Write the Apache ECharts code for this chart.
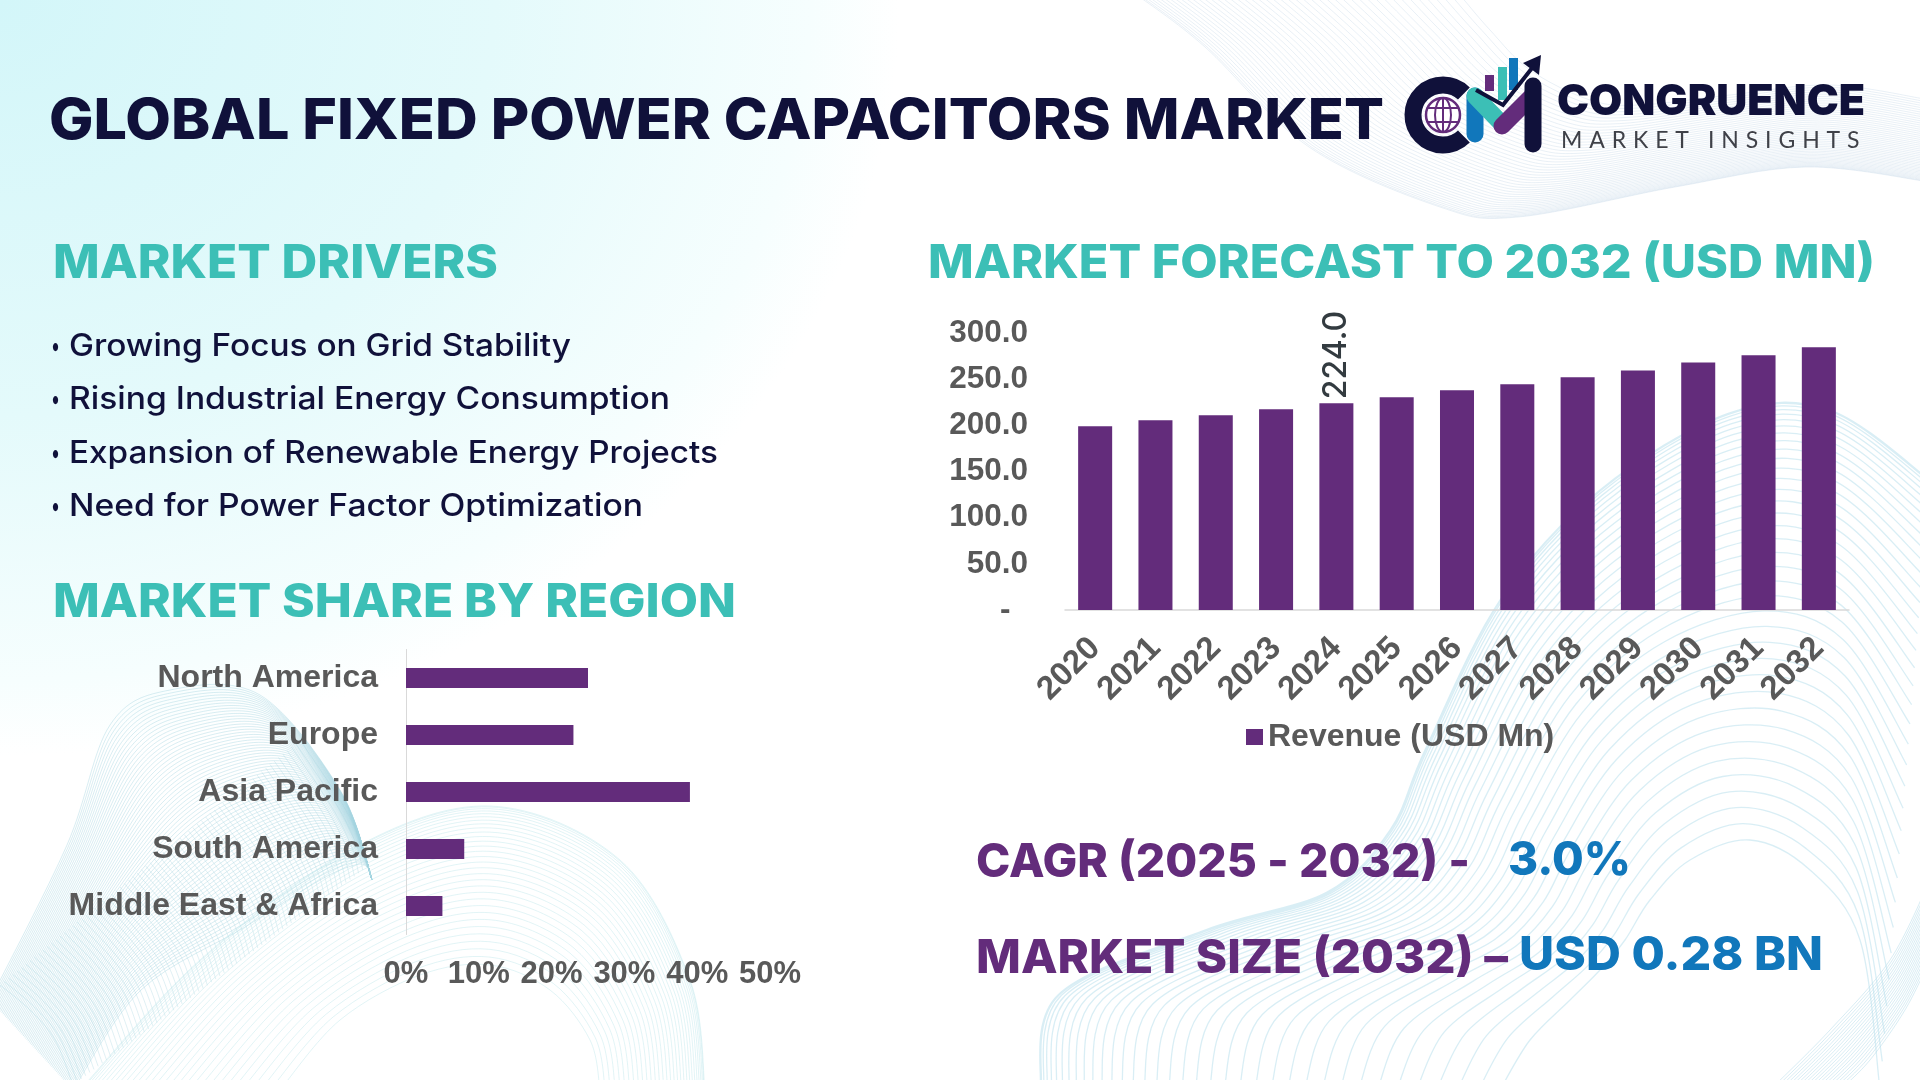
<!DOCTYPE html>
<html>
<head>
<meta charset="utf-8">
<title>Global Fixed Power Capacitors Market</title>
<script src="https://cdn.jsdelivr.net/npm/echarts@6/dist/echarts.min.js"></script>
<style>
    html, body { margin: 0; padding: 0; background: #fff; }
    #main { width: 1920px; height: 1080px; }
    #tagline {
        position: absolute; left: 1561px; top: 125px;
        font: 400 23px/28px Lato, sans-serif; letter-spacing: 6.9px;
        color: #3f4148; white-space: nowrap;
    }
</style>
</head>
<body>
<div id="main"></div>
<div id="tagline">MARKET INSIGHTS</div>
<script>
const years = ['2020', '2021', '2022', '2023', '2024', '2025', '2026', '2027', '2028', '2029', '2030', '2031', '2032'];
const revenue = [199, 205.5, 211, 217.5, 224, 230.5, 238, 244.5, 252, 259.5, 268, 276, 284.5];
const regions = ['North America', 'Europe', 'Asia Pacific', 'South America', 'Middle East & Africa'];
const regionShare = [25, 23, 39, 8, 5];
const drivers = [
    'Growing Focus on Grid Stability',
    'Rising Industrial Energy Consumption',
    'Expansion of Renewable Energy Projects',
    'Need for Power Factor Optimization'
];

const NAVY = '#10113a';
const TEAL = '#3cbfb6';
const PURPLE = '#632c7b';
const BLUE = '#1177bb';
const GREY = '#595959';

const measure = document.createElement('canvas').getContext('2d');

// text squeezed to the width it has in the picture, y = middle of the capitals
function fitText(text, x, y, width, size, weight, color) {
    const font = weight + ' ' + size + 'px Inter, sans-serif';
    measure.font = font;
    return {
        type: 'text', x: x, y: y, z: 20,
        scaleX: width / measure.measureText(text).width,
        style: { text: text, font: font, fill: color, textAlign: 'left', textVerticalAlign: 'middle' }
    };
}

// graphic has no path type, so the backdrop lines get their own shape
echarts.graphic.registerShape('waveLines', echarts.graphic.extendShape({
    shape: { lines: [] },
    buildPath: function (ctx, shape) {
        shape.lines.forEach((pts) => {
            ctx.moveTo(pts[0][0], pts[0][1]);
            for (let i = 0; i < pts.length - 1; i++) {
                const p0 = pts[Math.max(i - 1, 0)], p1 = pts[i], p2 = pts[i + 1], p3 = pts[Math.min(i + 2, pts.length - 1)];
                ctx.bezierCurveTo(
                    p1[0] + (p2[0] - p0[0]) / 6, p1[1] + (p2[1] - p0[1]) / 6,
                    p2[0] - (p3[0] - p1[0]) / 6, p2[1] - (p3[1] - p1[1]) / 6,
                    p2[0], p2[1]
                );
            }
        });
    }
}));

// backdrop ribbon: many thin lines between two edge curves
function ribbon(from, to, count, color, opacity, ease, width) {
    const lines = [];
    for (let i = 0; i <= count; i++) {
        const t = Math.pow(i / count, ease);
        lines.push(from.map((p, k) => [p[0] + (to[k][0] - p[0]) * t, p[1] + (to[k][1] - p[1]) * t]));
    }
    return {
        type: 'waveLines', z: -10, silent: true,
        shape: { lines: lines },
        style: { fill: 'none', stroke: color, lineWidth: width || 1, opacity: opacity }
    };
}

const topBandA = [[1137, -5], [1205, 47], [1309, 147], [1440, 207], [1518, 217], [1675, 187], [1806, 167], [1930, 182]];
const topBandB = [[1460, -5], [1490, 30], [1530, 70], [1590, 100], [1640, 105], [1730, 95], [1830, 85], [1930, 100]];
const blobA = [[-10, 1000], [67, 845], [110, 725], [170, 690], [260, 695], [340, 790], [372, 880]];
const blobB = [[73, 1090], [141, 990], [245, 927], [320, 880], [355, 865], [367, 867], [372, 880]];
const blobC = [[300, 740], [340, 800], [360, 840], [367, 867]];
const blobD = [[0, 985], [30, 1010], [55, 1040], [73, 1085]];
const archA = [[80, 1090], [200, 960], [350, 850], [490, 806], [620, 860], [690, 980], [705, 1090]];
const archB = [[280, 1090], [340, 1020], [420, 975], [490, 965], [550, 990], [590, 1040], [600, 1090]];
const bigArchA = [[1040, 1090], [1058, 995], [1205, 930], [1327, 892], [1390, 830], [1425, 750], [1500, 600], [1600, 490], [1729, 413], [1830, 410], [1930, 480]];
const bigArchB = [[1500, 1090], [1530, 1040], [1570, 1000], [1600, 970], [1625, 940], [1650, 900], [1690, 860], [1750, 840], [1810, 870], [1860, 940], [1880, 1090]];
const cornerA = [[1930, 880], [1890, 960], [1830, 1030], [1770, 1090]];
const cornerB = [[1930, 960], [1905, 1010], [1870, 1060], [1840, 1090]];

const backdrop = [
    {
        // cyan wash in the top left corner
        type: 'circle', z: -20, silent: true, x: 0, y: 0, scaleY: 0.84,
        shape: { cx: 0, cy: 0, r: 900 },
        style: {
            fill: new echarts.graphic.RadialGradient(0.5, 0.5, 0.5, [
                { offset: 0, color: '#d3f6f9' },
                { offset: 0.55, color: '#e4fafb' },
                { offset: 0.9, color: '#f6fefe' },
                { offset: 1, color: '#ffffff' }
            ])
        }
    },
    ribbon(topBandA, topBandB, 46, '#c9d9e8', 0.4, 1.3),
    ribbon(blobA, blobB, 70, '#a4d3e0', 0.42, 1),
    ribbon(blobC, blobD, 70, '#a4d3e0', 0.34, 1),
    ribbon(archA, archB, 30, '#bfe6ea', 0.45, 1.5),
    ribbon(bigArchA, bigArchB, 36, '#bfe3ee', 0.6, 1.7, 1.3),
    ribbon(cornerA, cornerB, 20, '#b4dcea', 0.5, 1)
];

const LOGO_Z = 20;
const logo = [
    { type: 'arc', z: LOGO_Z, shape: { cx: 1443, cy: 115, r: 30, startAngle: 0.8, endAngle: Math.PI * 2 - 0.8 },
      style: { fill: 'none', stroke: NAVY, lineWidth: 17 } },
    { type: 'circle', z: LOGO_Z, shape: { cx: 1443, cy: 115, r: 17 }, style: { fill: '#fff', stroke: PURPLE, lineWidth: 2.5 } },
    { type: 'ellipse', z: LOGO_Z, shape: { cx: 1443, cy: 115, rx: 8, ry: 17 }, style: { fill: 'none', stroke: PURPLE, lineWidth: 2 } },
    { type: 'line', z: LOGO_Z, shape: { x1: 1443, y1: 98, x2: 1443, y2: 132 }, style: { stroke: PURPLE, lineWidth: 2 } },
    { type: 'line', z: LOGO_Z, shape: { x1: 1427, y1: 108, x2: 1459, y2: 108 }, style: { stroke: PURPLE, lineWidth: 2 } },
    { type: 'line', z: LOGO_Z, shape: { x1: 1427, y1: 122, x2: 1459, y2: 122 }, style: { stroke: PURPLE, lineWidth: 2 } },
    { type: 'rect', z: LOGO_Z, shape: { x: 1485, y: 75, width: 9, height: 16 }, style: { fill: PURPLE } },
    { type: 'rect', z: LOGO_Z, shape: { x: 1498, y: 67, width: 9, height: 33 }, style: { fill: TEAL } },
    { type: 'rect', z: LOGO_Z, shape: { x: 1509, y: 58, width: 9, height: 32 }, style: { fill: BLUE } },
    { type: 'line', z: LOGO_Z, shape: { x1: 1475, y1: 96, x2: 1475, y2: 134 }, style: { stroke: BLUE, lineWidth: 17, lineCap: 'round' } },
    { type: 'line', z: LOGO_Z, shape: { x1: 1475, y1: 96, x2: 1500, y2: 122 }, style: { stroke: TEAL, lineWidth: 17, lineCap: 'round' } },
    { type: 'line', z: LOGO_Z, shape: { x1: 1502, y1: 126, x2: 1532, y2: 96 }, style: { stroke: PURPLE, lineWidth: 17, lineCap: 'round' } },
    { type: 'line', z: LOGO_Z, shape: { x1: 1533, y1: 86, x2: 1533, y2: 144 }, style: { stroke: NAVY, lineWidth: 17, lineCap: 'round' } },
    { type: 'polyline', z: LOGO_Z, shape: { points: [[1476, 90], [1503, 105], [1536, 63]] }, style: { fill: 'none', stroke: NAVY, lineWidth: 4 } },
    { type: 'polygon', z: LOGO_Z, shape: { points: [[1541, 55], [1523, 63], [1539, 75]] }, style: { fill: NAVY } }
];

const bulletY = [347, 400, 454, 507];
const texts = [
    fitText('GLOBAL FIXED POWER CAPACITORS MARKET', 49, 122, 1335, 57, 800, NAVY),
    fitText('CONGRUENCE', 1557, 102, 308, 43, 900, NAVY),
    fitText('MARKET DRIVERS', 53, 264, 445, 46, 800, TEAL),
    fitText('MARKET SHARE BY REGION', 53, 603, 683, 46, 800, TEAL),
    fitText('MARKET FORECAST TO 2032 (USD MN)', 928, 264, 947, 46, 800, TEAL),
    fitText(drivers[0], 69, bulletY[0], 502, 31, 500, NAVY),
    fitText(drivers[1], 69, bulletY[1], 601, 31, 500, NAVY),
    fitText(drivers[2], 69, bulletY[2], 649, 31, 500, NAVY),
    fitText(drivers[3], 69, bulletY[3], 574, 31, 500, NAVY),
    fitText('CAGR (2025 - 2032) -', 976, 863, 494, 47, 800, PURPLE),
    fitText('3.0%', 1508, 861, 123, 47, 800, BLUE),
    fitText('MARKET SIZE (2032) –', 976, 959, 532, 47, 800, PURPLE),
    fitText('USD 0.28 BN', 1519, 956, 304, 47, 800, BLUE)
].concat(bulletY.map((y) => fitText('•', 51, y, 9, 26, 500, NAVY)));

const axisFont = { color: GREY, fontFamily: 'Liberation Sans', fontWeight: 'bold', fontSize: 32 };

const myChart = echarts.init(document.getElementById('main'));
myChart.setOption({
    animation: false,
    graphic: { elements: backdrop.concat(logo, texts) },
    legend: {
        left: 1246, top: 721, padding: 0,
        itemWidth: 17, itemHeight: 16, itemGap: 10,
        icon: 'rect',
        data: ['Revenue (USD Mn)'],
        textStyle: { ...axisFont }
    },
    grid: [
        { left: 1065, top: 333, width: 784, height: 277 },
        { left: 406, top: 649.5, width: 364, height: 285 }
    ],
    xAxis: [
        {
            gridIndex: 0, type: 'category', data: years,
            axisTick: { show: false },
            axisLine: { lineStyle: { color: '#d9d9d9', width: 1.5 } },
            axisLabel: { ...axisFont, fontSize: 33, rotate: 45, margin: 33, interval: 0 }
        },
        {
            gridIndex: 1, type: 'value', min: 0, max: 50, interval: 10,
            axisLine: { show: false }, axisTick: { show: false }, splitLine: { show: false },
            axisLabel: { ...axisFont, fontSize: 31, margin: 24, formatter: '{value}%' }
        }
    ],
    yAxis: [
        {
            gridIndex: 0, type: 'value', min: 0, max: 300, interval: 50,
            axisLine: { show: false }, axisTick: { show: false }, splitLine: { show: false },
            axisLabel: {
                ...axisFont, fontSize: 31.5, margin: 37,
                formatter: (val) => (val === 0 ? '-  ' : val.toFixed(1))
            }
        },
        {
            gridIndex: 1, type: 'category', data: regions, inverse: true,
            axisTick: { show: false },
            axisLine: { lineStyle: { color: '#d9d9d9', width: 1 } },
            axisLabel: { ...axisFont, margin: 28 }
        }
    ],
    series: [
        {
            name: 'Revenue (USD Mn)', type: 'bar', xAxisIndex: 0, yAxisIndex: 0,
            barWidth: '56.4%',
            itemStyle: { color: PURPLE },
            data: revenue.map((val, idx) => (idx === 4 ? {
                value: val,
                label: {
                    show: true, position: 'top', rotate: 90, distance: 4,
                    align: 'left', verticalAlign: 'middle',
                    fontFamily: 'Inter', fontWeight: 500, fontSize: 32, color: '#333b40',
                    formatter: (p) => p.value.toFixed(1)
                }
            } : val))
        },
        {
            name: 'Share', type: 'bar', xAxisIndex: 1, yAxisIndex: 1,
            barWidth: '35%',
            itemStyle: { color: PURPLE },
            data: regionShare
        }
    ]
});
</script>
</body>
</html>
